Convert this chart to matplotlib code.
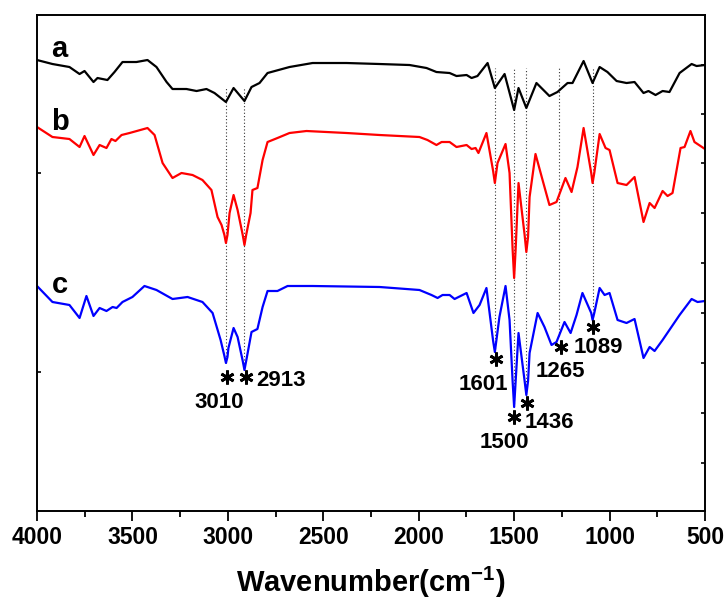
import numpy as np
import matplotlib
matplotlib.use("Agg")
import matplotlib.pyplot as plt

FAM = "Liberation Sans"
plt.rcParams['font.family'] = [FAM, 'DejaVu Sans']
plt.rcParams['mathtext.fontset'] = 'custom'
plt.rcParams['mathtext.bf'] = FAM + ':bold'
plt.rcParams['mathtext.rm'] = FAM + ':bold'
plt.rcParams['mathtext.default'] = 'bf'

# ---------------- data (wavenumber, transmittance a.u.) ----------------
wn_a = [4000, 3919, 3830, 3777, 3751, 3704, 3683, 3657, 3631, 3594, 3552, 3479, 3421,
        3374, 3321, 3290, 3217, 3164, 3112, 3070, 3010, 2970, 2913, 2876, 2834, 2792,
        2677, 2556, 2378, 2205, 2048, 1959, 1907, 1838, 1802, 1749, 1723, 1692, 1639,
        1601, 1550, 1500, 1477, 1436, 1383, 1315, 1273, 1220, 1194, 1136, 1089, 1052,
        1011, 963, 911, 869, 822, 796, 759, 722, 686, 633, 570, 544, 500]
t_a = [451, 447, 444, 437, 440, 429, 433, 432, 431, 439, 449, 449, 451,
       444, 429, 422, 422, 420, 422, 418, 409, 423, 410, 424, 428, 438,
       444, 448, 448, 447, 446, 443, 439, 438, 435, 436, 433, 435, 448,
       423, 437, 401, 423, 403, 428, 415, 419, 428, 428, 450, 428, 444,
       439, 430, 428, 429, 418, 420, 416, 420, 419, 438, 447, 445, 446]

wn_b = [4000, 3919, 3830, 3777, 3751, 3704, 3672, 3636, 3610, 3589, 3557, 3515, 3421,
        3384, 3342, 3290, 3243, 3185, 3133, 3086, 3054, 3033, 3018, 3010, 3002, 2991,
        2970, 2949, 2922, 2913, 2904, 2881, 2871, 2845, 2818, 2792, 2740, 2677, 2588,
        2378, 2205, 1996, 1954, 1907, 1880, 1838, 1802, 1749, 1723, 1702, 1687, 1645,
        1610, 1601, 1587, 1545, 1524, 1508, 1500, 1492, 1477, 1445, 1436, 1427, 1419,
        1388, 1351, 1315, 1278, 1231, 1199, 1168, 1136, 1096, 1089, 1080, 1052, 1021,
        1000, 958, 911, 869, 822, 790, 764, 722, 696, 670, 628, 607, 576, 555, 500]
t_b = [384, 374, 372, 364, 375, 356, 366, 363, 372, 370, 376, 378, 383,
       376, 348, 333, 338, 336, 331, 321, 294, 286, 276, 268, 276, 298,
       316, 301, 276, 266, 276, 298, 321, 323, 351, 369, 373, 378, 380,
       378, 376, 374, 371, 366, 369, 369, 364, 366, 362, 363, 358, 378,
       340, 328, 348, 367, 338, 262, 233, 262, 328, 276, 259, 274, 314,
       357, 331, 306, 309, 333, 319, 344, 383, 338, 328, 338, 377, 363,
       361, 328, 326, 334, 289, 308, 303, 320, 315, 318, 363, 364, 380, 369, 362]

wn_c = [4000, 3919, 3830, 3777, 3741, 3704, 3672, 3636, 3604, 3583, 3552, 3500, 3437,
        3374, 3290, 3211, 3133, 3080, 3038, 3018, 3010, 3002, 2997, 2970, 2949, 2922,
        2913, 2904, 2876, 2845, 2818, 2792, 2740, 2687, 2556, 2205, 1996, 1933, 1901,
        1875, 1838, 1812, 1749, 1713, 1681, 1645, 1610, 1601, 1592, 1577, 1545, 1524,
        1508, 1500, 1492, 1477, 1445, 1436, 1427, 1419, 1377, 1341, 1304, 1278, 1236,
        1204, 1173, 1142, 1096, 1089, 1080, 1052, 1026, 1000, 958, 911, 869, 822, 790,
        764, 722, 633, 570, 539, 500]
t_c = [225, 209, 206, 193, 215, 195, 203, 200, 204, 203, 209, 214, 225,
       221, 212, 214, 209, 198, 171, 155, 148, 154, 163, 183, 174, 150,
       141, 150, 179, 182, 204, 220, 220, 225, 225, 224, 221, 216, 213,
       216, 216, 212, 218, 198, 206, 223, 170, 159, 172, 194, 225, 191,
       130, 104, 130, 178, 130, 116, 130, 158, 198, 184, 166, 169, 189,
       178, 196, 218, 198, 191, 198, 223, 216, 218, 191, 188, 192, 153, 164,
       160, 171, 196, 212, 209, 210]

curve_labels = ["a", "b", "c"]
peaks = [3010, 2913, 1601, 1500, 1436, 1265, 1089]
peak_labels = ["3010", "2913", "1601", "1500", "1436", "1265", "1089"]

# ---------------- figure ----------------
fig = plt.figure(figsize=(7.27, 6.03), dpi=100)
ax = fig.add_axes([0.0509, 0.1526, 0.9188, 0.8225])

for wn, t, col in [(wn_a, t_a, 'black'), (wn_b, t_b, '#ff0000'), (wn_c, t_c, '#0000ff')]:
    ax.plot(wn, t, color=col, lw=1.6, solid_joinstyle='round', solid_capstyle='round')

ax.set_xlim(4000, 500)
ax.set_ylim(0, 496)

# dotted guide lines from curve a region down to curve c
c_rev_x = np.array(wn_c[::-1], float)
c_rev_y = np.array(t_c[::-1], float)
tops = [424, 424, 443, 443, 443, 443, 443]
for p, top in zip(peaks, tops):
    bottom = np.interp(p, c_rev_x, c_rev_y)
    ax.vlines(p, bottom, top, colors='#333333', linestyles=(0, (1, 2)), lw=0.8, zorder=1)

# asterisks
star_pos = [(3005, 134), (2907, 134), (1593, 152), (1503, 94), (1430, 108), (1257, 164), (1089, 184)]
for (x, y) in star_pos:
    ax.plot(x, y, marker=(6, 2, 0), ms=10, mew=2.0, color='black', ls='none')

# peak labels (x, baseline y, ha)
lab_pos = [(3044, 103, 'center'), (2850, 125, 'left'), (1660, 121, 'center'),
           (1550, 63, 'center'), (1446, 83, 'left'), (1257, 134, 'center'),
           (1058, 158, 'center')]
for txt, (x, y, ha) in zip(peak_labels, lab_pos):
    ax.text(x, y, txt, ha=ha, va='baseline', fontsize=16, fontweight='bold')

# curve labels
for txt, y in zip(curve_labels, [454, 381, 218]):
    ax.text(3882, y, txt, ha='center', va='baseline', fontsize=21, fontweight='bold')

# axes styling
for s in ax.spines.values():
    s.set_linewidth(1.4)
ax.set_xticks([4000, 3500, 3000, 2500, 2000, 1500, 1000, 500])
ax.set_xticks(np.arange(3750, 500, -500), minor=True)
ax.tick_params(axis='x', which='major', direction='out', length=7.5, width=1.3,
               labelsize=16.5, pad=3)
ax.tick_params(axis='x', which='minor', direction='out', length=4.3, width=1.3)
for lab in ax.get_xticklabels():
    lab.set_fontweight('bold')

ax.set_yticks([139, 338])
ax.tick_params(axis='y', which='major', direction='in', length=3, width=1.2,
               labelleft=False, left=True, right=False)
ax2 = ax.twinx()
ax2.set_ylim(0, 496)
ax2.set_yticks([48, 98, 148, 198, 248, 298, 348, 397, 446])
ax2.tick_params(axis='y', direction='in', length=3, width=1.2, labelright=False)
for s in ax2.spines.values():
    s.set_visible(False)

ax.set_xlabel("Wavenumber(cm$^{-1}$)", fontsize=21, fontweight='bold', labelpad=12)

fig.savefig("out.png", dpi=100)
